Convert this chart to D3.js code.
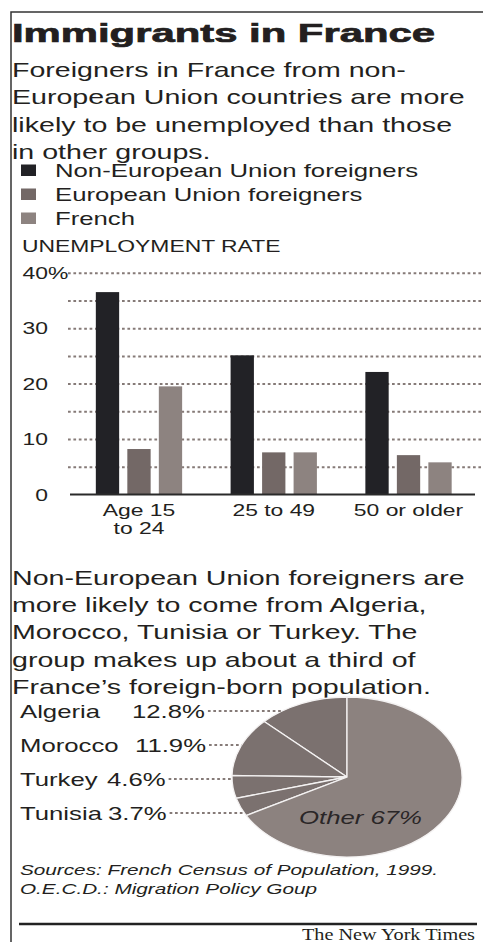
<!DOCTYPE html>
<html>
<head>
<meta charset="utf-8">
<script src="https://cdn.jsdelivr.net/npm/d3@7"></script>
<style>
  body { margin: 0; background: #fff; }
  svg { display: block; font-family: "Liberation Sans", Arial, sans-serif; }
</style>
</head>
<body>
<div id="chart"></div>
<script>
// Text
const title = 'Immigrants in France';
const introLines = [
  'Foreigners in France from non-',
  'European Union countries are more',
  'likely to be unemployed than those',
  'in other groups.'
];
const yAxisTitle = 'UNEMPLOYMENT RATE';
const pieNoteLines = [
  'Non-European Union foreigners are',
  'more likely to come from Algeria,',
  'Morocco, Tunisia or Turkey. The',
  'group makes up about a third of',
  'France\u2019s foreign-born population.'
];
const sourceLines = [
  'Sources: French Census of Population, 1999.',
  'O.E.C.D.: Migration Policy Goup'
];
const credit = 'The New York Times';

// Bar chart data (unemployment rate, %)
const seriesNames = ['Non-European Union foreigners', 'European Union foreigners', 'French'];
const ageGroups = ['Age 15|to 24', '25 to 49', '50 or older'];
const nonEU = [36.5, 25.1, 22.1];
const eu = [8.2, 7.6, 7.1];
const french = [19.5, 7.6, 5.8];
const yTicks = [0, 10, 20, 30, 40];
const gridTicks = [5, 10, 15, 20, 25, 30, 35, 40];

// Pie data (share of foreign-born population, %)
const countries = ['Algeria', 'Morocco', 'Turkey', 'Tunisia'];
const countryShares = [12.8, 11.9, 4.6, 3.7];
const otherLabel = 'Other';
const otherShare = 67;

// Style
const ink = '#231f20';
const seriesColors = ['#222226', '#736866', '#8d8380'];
const sliceColor = '#7b716f';
const otherColor = '#8c827f';
const dotColor = '#857a77';
const SX = 1.43; // horizontal stretch of the type

const W = 483, H = 942;
const svg = d3.select('#chart').append('svg')
  .attr('width', W)
  .attr('height', H);

function label(parent, x, y, str, size, opts = {}) {
  return parent.append('text')
    .attr('transform', `translate(${x},${y}) scale(${SX},1)`)
    .attr('text-anchor', opts.anchor || 'start')
    .attr('font-size', size)
    .attr('font-style', opts.italic ? 'italic' : null)
    .attr('fill', opts.fill || ink)
    .text(str);
}

// Frame
svg.append('path')
  .attr('d', `M11,${H} V12 H${W}`)
  .attr('fill', 'none')
  .attr('stroke', '#333')
  .attr('stroke-width', 1.5);

// Title
svg.append('text')
  .attr('x', 12)
  .attr('y', 42)
  .attr('font-size', 26)
  .attr('font-weight', 'bold')
  .attr('fill', ink)
  .attr('stroke', ink)
  .attr('stroke-width', 0.7)
  .attr('textLength', 423)
  .attr('lengthAdjust', 'spacingAndGlyphs')
  .text(title);

introLines.forEach((t, i) => label(svg, 12, 77 + i * 27.3, t, 20));

// Legend
const legend = svg.append('g');
seriesNames.forEach((name, i) => {
  const y0 = 176.5 + i * 24;
  legend.append('rect')
    .attr('x', 21).attr('y', y0 - 12)
    .attr('width', 15).attr('height', 11.5)
    .attr('fill', seriesColors[i]);
  label(legend, 55, y0, name, 18);
});

label(svg, 22, 252, yAxisTitle, 16);

// Bar chart
const y = d3.scaleLinear().domain([0, 40]).range([494.5, 272.7]);
const x0 = d3.scaleBand().domain(ageGroups).range([71.6, 475.9]);
const x1 = d3.scaleBand().domain(seriesNames).range([-43.15, 43.15]).paddingInner(0.26);

// Dotted grid
const grid = svg.append('g')
  .attr('transform', 'translate(68,0)')
  .call(d3.axisLeft(y).tickValues(gridTicks).tickSize(-(481 - 68)).tickFormat(''));
grid.select('.domain').remove();
grid.selectAll('line')
  .attr('stroke', dotColor)
  .attr('stroke-width', 2)
  .attr('stroke-dasharray', '2.7,2.7');

// Y axis labels
const yAxis = svg.append('g')
  .attr('transform', 'translate(48,0)')
  .call(d3.axisLeft(y).tickValues(yTicks).tickSize(0).tickPadding(0));
yAxis.select('.domain').remove();
yAxis.selectAll('text')
  .attr('font-size', 16)
  .attr('font-family', null)
  .attr('fill', ink)
  .attr('x', 0)
  .attr('dy', '0.36em')
  .attr('transform', `scale(${SX},1)`);
yAxis.selectAll('.tick').filter(d => d === 40)
  .append('text')
  .attr('font-size', 16)
  .attr('fill', ink)
  .attr('text-anchor', 'start')
  .attr('dy', '0.36em')
  .attr('transform', `scale(${SX},1)`)
  .text('%');

// Bars
const rows = ageGroups.map((g, i) => ({ group: g, values: [nonEU[i], eu[i], french[i]] }));
const groups = svg.append('g').selectAll('g')
  .data(rows)
  .join('g')
  .attr('transform', d => `translate(${x0(d.group) + x0.bandwidth() / 2},0)`);
groups.selectAll('rect')
  .data(d => d.values.map((v, j) => ({ series: seriesNames[j], value: v, j })))
  .join('rect')
  .attr('x', d => x1(d.series))
  .attr('y', d => y(d.value))
  .attr('width', x1.bandwidth())
  .attr('height', d => y(0) - y(d.value))
  .attr('fill', d => seriesColors[d.j]);

// X axis
const xAxis = svg.append('g')
  .attr('transform', `translate(0,${y(0)})`)
  .call(d3.axisBottom(x0).tickSize(0).tickSizeOuter(0).tickFormat(''));
xAxis.select('.domain')
  .attr('stroke', '#2a2a2a')
  .attr('stroke-width', 2)
  .attr('d', `M70,0H475`);
xAxis.selectAll('.tick').each(function(d) {
  const g = d3.select(this);
  d.split('|').forEach((line, k) => label(g, 0, 21.5 + k * 17.5, line, 16, { anchor: 'middle' }));
});

// Second note
pieNoteLines.forEach((t, i) => label(svg, 12, 584.5 + i * 27.4, t, 20));

// Pie
const cx = 347, cy = 777, r = 80, pieSX = 1.4375;
const pieData = countries.map((c, i) => ({ name: c, value: countryShares[i] }))
  .concat([{ name: otherLabel, value: otherShare }]);
const pie = d3.pie().sort(null).value(d => d.value)
  .startAngle(0).endAngle(-2 * Math.PI);
const arcs = pie(pieData);
const arc = d3.arc().innerRadius(0).outerRadius(r);

svg.append('g')
  .attr('transform', `translate(${cx},${cy}) scale(${pieSX},1)`)
  .selectAll('path')
  .data(arcs)
  .join('path')
  .attr('d', arc)
  .attr('fill', d => d.data.name === otherLabel ? otherColor : sliceColor)
  .attr('stroke', '#f4f2f2')
  .attr('stroke-width', 1.3)
  .attr('vector-effect', 'non-scaling-stroke');

label(svg, 360.5, 823.5, `${otherLabel} ${otherShare}%`, 18, { anchor: 'middle', italic: true, fill: '#2a2627' });

// Pie labels and leaders
const valueX = [132, 135, 107, 108];
countries.forEach((c, i) => {
  const base = 718 + i * 34;
  label(svg, 20, base, c, 18);
  const v = label(svg, valueX[i], base, `${countryShares[i]}%`, 18);
  const endText = valueX[i] + v.node().getComputedTextLength() * SX;
  const ly = base - 7;
  const dy = (ly - cy) / r;
  const edge = cx - r * pieSX * Math.sqrt(Math.max(0, 1 - dy * dy));
  svg.append('line')
    .attr('x1', endText + 3).attr('x2', edge)
    .attr('y1', ly).attr('y2', ly)
    .attr('stroke', dotColor)
    .attr('stroke-width', 2)
    .attr('stroke-dasharray', '2.7,2.7');
});

// Sources
sourceLines.forEach((t, i) => label(svg, 20, 875 + i * 18.5, t, 14.5, { italic: true }));

// Credit
svg.append('line')
  .attr('x1', 19).attr('x2', 477)
  .attr('y1', 924).attr('y2', 924)
  .attr('stroke', '#222')
  .attr('stroke-width', 2.5);
svg.append('text')
  .attr('x', 302)
  .attr('y', 940)
  .attr('font-family', '"Liberation Serif", "Times New Roman", serif')
  .attr('font-size', 16)
  .attr('fill', ink)
  .attr('textLength', 173)
  .attr('lengthAdjust', 'spacingAndGlyphs')
  .text(credit);
</script>
</body>
</html>
